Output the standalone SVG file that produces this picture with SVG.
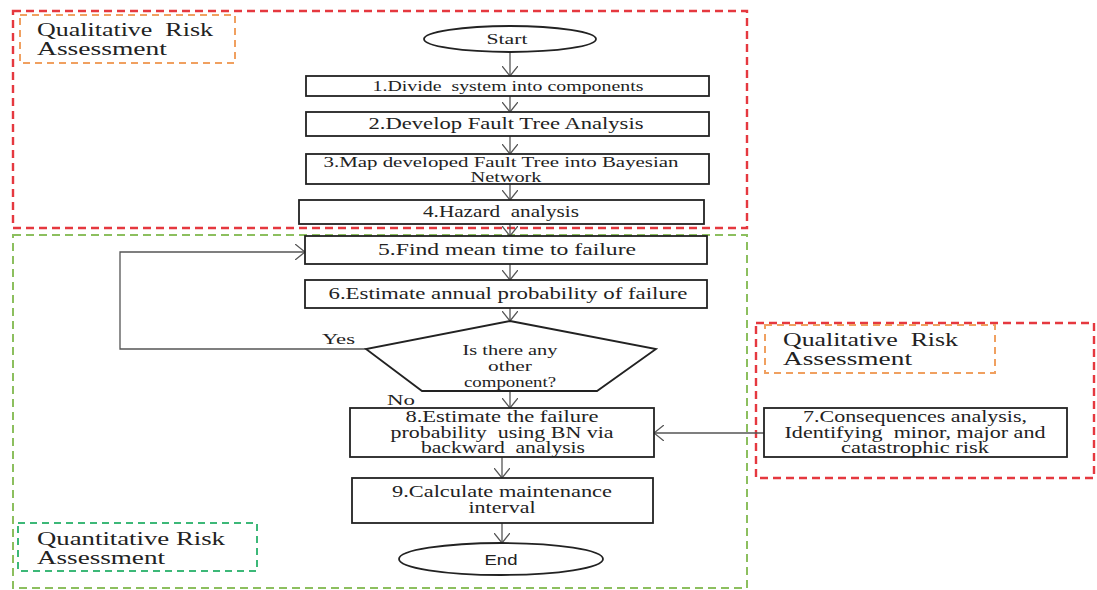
<svg xmlns="http://www.w3.org/2000/svg" width="1097" height="590" viewBox="0 0 1097 590">
<style>
.bg{fill:#fff}
.box{fill:#fff;stroke:#222;stroke-width:1.8}
.red{fill:none;stroke:#e5383f;stroke-width:2.4;stroke-dasharray:8 5}
.org{fill:none;stroke:#f0a060;stroke-width:2;stroke-dasharray:7 5}
.grn{fill:none;stroke:#8cbf5e;stroke-width:2;stroke-dasharray:8 5}
.grn2{fill:none;stroke:#3cb878;stroke-width:2;stroke-dasharray:7 5}
.t{font-family:"Liberation Serif",serif;fill:#222;white-space:pre}
.s{font-family:"Liberation Sans",sans-serif;fill:#222}
.c{text-anchor:middle}
.con{fill:none;stroke:#555;stroke-width:1.3}
</style>
<defs>
<marker id="arr" viewBox="0 0 10 16" refX="10" refY="8" markerWidth="10" markerHeight="16" orient="auto" markerUnits="userSpaceOnUse">
<path d="M0,0 L10,8 L0,16" fill="none" stroke="#555" stroke-width="1.3"/>
</marker>
</defs>
<rect class="bg" x="0" y="0" width="1097" height="590"/>

<g id="region-qual-top">
<rect class="red" x="13" y="11" width="734" height="217"/>
<rect class="org" x="20" y="15" width="215" height="48"/>
<text class="t" x="37" y="36" font-size="19" textLength="176" lengthAdjust="spacingAndGlyphs">Qualitative  Risk</text>
<text class="t" x="37" y="55" font-size="19" textLength="130" lengthAdjust="spacingAndGlyphs">Assessment</text>
</g>

<g id="region-quant">
<rect class="grn" x="13" y="235" width="734" height="353"/>
<rect class="grn2" x="18" y="523" width="239" height="48"/>
<text class="t" x="37" y="545" font-size="19" textLength="188" lengthAdjust="spacingAndGlyphs">Quantitative Risk</text>
<text class="t" x="37" y="564" font-size="19" textLength="128" lengthAdjust="spacingAndGlyphs">Assessment</text>
</g>

<g id="region-qual-right">
<rect class="red" x="756" y="323" width="338" height="155"/>
<rect class="org" x="765" y="325" width="230" height="48"/>
<text class="t" x="783" y="346" font-size="19" textLength="175" lengthAdjust="spacingAndGlyphs">Qualitative  Risk</text>
<text class="t" x="783" y="365" font-size="19" textLength="129" lengthAdjust="spacingAndGlyphs">Assessment</text>
</g>

<g id="connectors">
<line class="con" x1="510" y1="52" x2="510" y2="76" marker-end="url(#arr)"/>
<line class="con" x1="510" y1="96" x2="510" y2="112" marker-end="url(#arr)"/>
<line class="con" x1="510" y1="136" x2="510" y2="154" marker-end="url(#arr)"/>
<line class="con" x1="510" y1="184" x2="510" y2="200" marker-end="url(#arr)"/>
<line class="con" x1="510" y1="224" x2="510" y2="236" marker-end="url(#arr)"/>
<line class="con" x1="510" y1="264" x2="510" y2="280" marker-end="url(#arr)"/>
<line class="con" x1="510" y1="308" x2="510" y2="321" marker-end="url(#arr)"/>
<line class="con" x1="510" y1="391" x2="510" y2="408" marker-end="url(#arr)"/>
<line class="con" x1="502" y1="457" x2="502" y2="478" marker-end="url(#arr)"/>
<line class="con" x1="502" y1="523" x2="502" y2="543" marker-end="url(#arr)"/>
<polyline class="con" points="367,349 120,349 120,252 305,252" marker-end="url(#arr)"/>
<line class="con" x1="764" y1="433" x2="654" y2="433" marker-end="url(#arr)"/>
<text class="t" x="322" y="344" font-size="15" textLength="33" lengthAdjust="spacingAndGlyphs">Yes</text>
<text class="t" x="387" y="405" font-size="15" textLength="28" lengthAdjust="spacingAndGlyphs">No</text>
</g>

<g id="start">
<ellipse class="box" cx="510" cy="39" rx="86" ry="13"/>
<text class="t c" x="507" y="44" font-size="15" textLength="41" lengthAdjust="spacingAndGlyphs">Start</text>
</g>
<g id="step1">
<rect class="box" x="306" y="76" width="403" height="20"/>
<text class="t c" x="508" y="91" font-size="15" textLength="271" lengthAdjust="spacingAndGlyphs">1.Divide  system into components</text>
</g>
<g id="step2">
<rect class="box" x="306" y="112" width="403" height="24"/>
<text class="t c" x="506" y="129" font-size="17" textLength="275" lengthAdjust="spacingAndGlyphs">2.Develop Fault Tree Analysis</text>
</g>
<g id="step3">
<rect class="box" x="306" y="154" width="403" height="30"/>
<text class="t c" x="501" y="167" font-size="15.5" textLength="355" lengthAdjust="spacingAndGlyphs">3.Map developed Fault Tree into Bayesian</text>
<text class="t c" x="506" y="182" font-size="15.5" textLength="71" lengthAdjust="spacingAndGlyphs">Network</text>
</g>
<g id="step4">
<rect class="box" x="299" y="200" width="405" height="24"/>
<text class="t c" x="501" y="217" font-size="16.5" textLength="156" lengthAdjust="spacingAndGlyphs">4.Hazard  analysis</text>
</g>
<g id="step5">
<rect class="box" x="305" y="236" width="402" height="28"/>
<text class="t c" x="507" y="255" font-size="17" textLength="258" lengthAdjust="spacingAndGlyphs">5.Find mean time to failure</text>
</g>
<g id="step6">
<rect class="box" x="305" y="280" width="402" height="28"/>
<text class="t c" x="508" y="299" font-size="17" textLength="359" lengthAdjust="spacingAndGlyphs">6.Estimate annual probability of failure</text>
</g>
<g id="decision">
<polygon class="box" points="510,321 656,349 597,391 422,391 366,349"/>
<text class="t c" x="510" y="355" font-size="15.5" textLength="95" lengthAdjust="spacingAndGlyphs">Is there any</text>
<text class="t c" x="510" y="371" font-size="15.5" textLength="44" lengthAdjust="spacingAndGlyphs">other</text>
<text class="t c" x="510" y="387" font-size="15.5" textLength="92" lengthAdjust="spacingAndGlyphs">component?</text>
</g>
<g id="step7">
<rect class="box" x="764" y="408" width="303" height="49"/>
<text class="t c" x="915" y="422" font-size="16" textLength="224" lengthAdjust="spacingAndGlyphs">7.Consequences analysis,</text>
<text class="t c" x="915" y="438" font-size="16" textLength="261" lengthAdjust="spacingAndGlyphs">Identifying  minor, major and</text>
<text class="t c" x="915" y="453" font-size="16" textLength="148" lengthAdjust="spacingAndGlyphs">catastrophic risk</text>
</g>
<g id="step8">
<rect class="box" x="350" y="408" width="304" height="49"/>
<text class="t c" x="502" y="422" font-size="16" textLength="193" lengthAdjust="spacingAndGlyphs">8.Estimate the failure</text>
<text class="t c" x="502" y="438" font-size="16" textLength="223" lengthAdjust="spacingAndGlyphs">probability  using BN via</text>
<text class="t c" x="503" y="453" font-size="16" textLength="164" lengthAdjust="spacingAndGlyphs">backward  analysis</text>
</g>
<g id="step9">
<rect class="box" x="352" y="478" width="301" height="45"/>
<text class="t c" x="502" y="497" font-size="16" textLength="220" lengthAdjust="spacingAndGlyphs">9.Calculate maintenance</text>
<text class="t c" x="502" y="513" font-size="16" textLength="67" lengthAdjust="spacingAndGlyphs">interval</text>
</g>
<g id="end">
<ellipse class="box" cx="501" cy="559" rx="102" ry="16"/>
<text class="s c" x="501" y="565" font-size="14" textLength="33" lengthAdjust="spacingAndGlyphs">End</text>
</g>
</svg>
